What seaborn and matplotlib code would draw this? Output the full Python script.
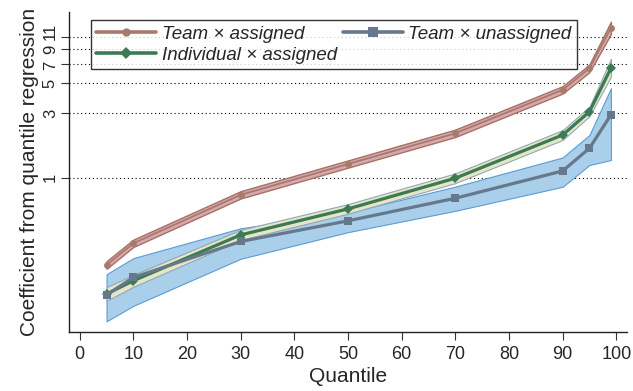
import numpy as np
import pandas as pd
import matplotlib
matplotlib.use("Agg")
import matplotlib.pyplot as plt
import matplotlib.ticker as mticker
import matplotlib.transforms as mtransforms
from matplotlib.lines import Line2D
import seaborn as sns

quantiles = [5, 10, 30, 50, 70, 90, 95, 99]

team_assigned = [0.225, 0.326, 0.745, 1.26, 2.13, 4.47, 6.47, 12.9]
ta_low = [0.211, 0.306, 0.70, 1.185, 2.0, 4.2, 6.05, 11.6]
ta_high = [0.24, 0.347, 0.793, 1.34, 2.27, 4.76, 6.9, 14.3]

indiv_assigned = [0.137, 0.172, 0.376, 0.586, 0.99, 2.07, 3.08, 6.47]
ia_low = [0.122, 0.155, 0.345, 0.54, 0.91, 1.90, 2.85, 5.6]
ia_high = [0.154, 0.19, 0.41, 0.636, 1.075, 2.25, 3.35, 7.6]

team_unassigned = [0.135, 0.182, 0.336, 0.478, 0.703, 1.12, 1.65, 2.92]
tu_low = [0.086, 0.112, 0.25, 0.394, 0.567, 0.855, 1.24, 1.35]
tu_high = [0.192, 0.253, 0.421, 0.55, 0.857, 1.41, 2.07, 4.6]

series_names = ["Team \u00d7 assigned", "Individual \u00d7 assigned", "Team \u00d7 unassigned"]
x_ticks = [0, 10, 20, 30, 40, 50, 60, 70, 80, 90, 100]
y_ticks = [1, 3, 5, 7, 9, 11]

sns.set_style("ticks")
plt.rcParams["font.family"] = ["Liberation Sans", "DejaVu Sans"]

fig = plt.figure(figsize=(6.33, 3.91), dpi=100)
ax = fig.add_axes([69 / 633, 1 - 331.7 / 391, 558 / 633, 319.7 / 391])

ax.set_yscale("log")
ax.set_xlim(-2, 102)
ax.set_ylim(0.072, 16.9)

# dotted reference lines
for yv in y_ticks:
    ax.axhline(yv, color="black", linestyle=(0, (1, 2.5)), linewidth=0.8, zorder=0.5)

palette = {series_names[0]: "#a87a6a", series_names[1]: "#3c7a55", series_names[2]: "#66788c"}
markers = {series_names[0]: "o", series_names[1]: "D", series_names[2]: "s"}
msizes = {series_names[0]: 5, series_names[1]: 5, series_names[2]: 6}
lwidths = {series_names[0]: 1.3, series_names[1]: 2.3, series_names[2]: 2.3}

# confidence bands
ax.fill_between(quantiles, tu_low, tu_high, facecolor="#a9cfea", edgecolor="#5b9bd5",
                linewidth=0.8, zorder=1)
ax.fill_between(quantiles, ia_low, ia_high, facecolor="#e6e6c6", edgecolor="#8fa8b8",
                linewidth=0.8, zorder=2)
ax.fill_between(quantiles, ta_low, ta_high, facecolor="#d6a8b2", edgecolor="#a87060",
                linewidth=1.0, zorder=3)

df = pd.DataFrame({
    "Quantile": quantiles * 3,
    "coef": team_assigned + indiv_assigned + team_unassigned,
    "series": [series_names[0]] * 8 + [series_names[1]] * 8 + [series_names[2]] * 8,
})

for name in series_names:
    sub = df[df["series"] == name]
    sns.lineplot(data=sub, x="Quantile", y="coef", color=palette[name], marker=markers[name],
                 markersize=msizes[name], markeredgewidth=0, linewidth=lwidths[name], ax=ax,
                 zorder=5, estimator=None, errorbar=None, legend=False)

ax.yaxis.set_major_locator(mticker.FixedLocator(y_ticks))
ax.yaxis.set_major_formatter(mticker.FixedFormatter([str(v) for v in y_ticks]))
ax.yaxis.set_minor_locator(mticker.NullLocator())
ax.set_xticks(x_ticks)

ax.tick_params(axis="y", labelsize=12, length=6, width=0.8, color="#333333", rotation=90, pad=2)
ax.tick_params(axis="x", labelsize=13, length=6, width=0.8, color="#333333", pad=4)
for lbl in ax.get_yticklabels():
    lbl.set_va("center")

# nudge the crowded top labels apart, as in the reference
shifts = {11: 5.5, 7: -1.5}
for tick, val in zip(ax.yaxis.get_major_ticks(), y_ticks):
    if val in shifts:
        off = mtransforms.ScaledTranslation(0, shifts[val] / 100, fig.dpi_scale_trans)
        tick.label1.set_transform(tick.label1.get_transform() + off)

ax.set_xlabel("Quantile", fontsize=15, labelpad=3)
ax.set_ylabel("Coefficient from quantile regression", fontsize=15, labelpad=3)

for s in ["top", "right"]:
    ax.spines[s].set_visible(False)
for s in ["left", "bottom"]:
    ax.spines[s].set_color("#222222")
    ax.spines[s].set_linewidth(1.0)

handles = [Line2D([], [], color=palette[n], marker=markers[n], markersize=msizes[n] + 1,
                  markeredgewidth=0, linewidth=2.6) for n in series_names]
leg = ax.legend(handles, series_names, ncol=2,
                loc="upper left", bbox_to_anchor=(0.039, 0.975), frameon=True,
                fancybox=False, edgecolor="black", handlelength=3.2, fontsize=13.5,
                borderpad=0.3, labelspacing=0.2, columnspacing=0.3, handletextpad=0.3,
                borderaxespad=0)
leg.get_frame().set_linewidth(1.0)
for t in leg.get_texts():
    t.set_fontstyle("italic")

fig.savefig("out.png", dpi=100)
